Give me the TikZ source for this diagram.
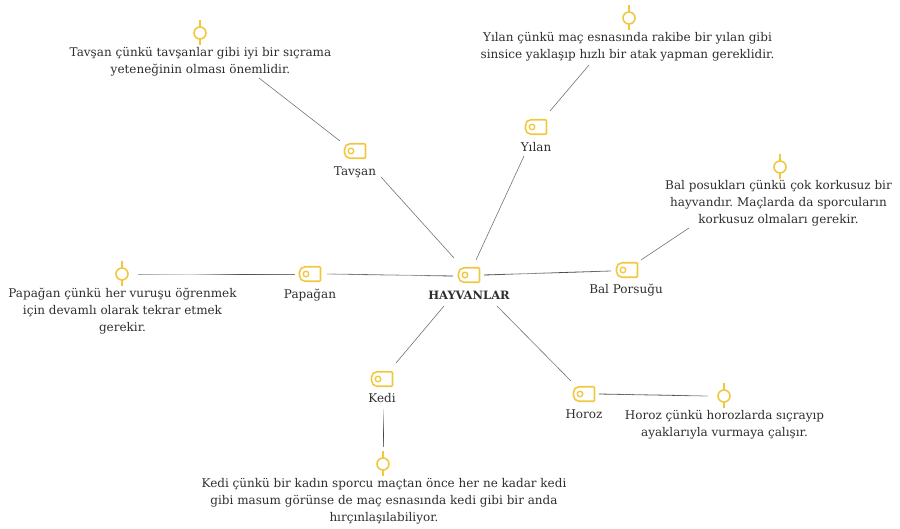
\documentclass[tikz,border=0pt]{standalone}
\usepackage{fontspec}
\setmainfont{DejaVu Serif}
\usetikzlibrary{calc}
\frenchspacing
\definecolor{gold}{HTML}{F0C840}
\definecolor{ink}{HTML}{2E2E2E}
\tikzset{
  tagbox/.style={minimum width=21pt,minimum height=14.5pt,inner sep=0pt,outer sep=0pt},
  pinbox/.style={circle,draw=gold,line width=1.6pt,minimum size=12pt,inner sep=0pt,outer sep=0pt},
  goldline/.style={draw=gold,line width=1.6pt,line join=round},
  wire/.style={draw=black!55,line width=0.6pt},
  caption/.style={text=ink,font=\fontsize{12}{17}\selectfont,align=center,inner sep=0pt},
  tagtext/.style={text=ink,font=\fontsize{12}{17}\selectfont,inner sep=0pt},
}
\newcommand\tagicon[2]{%
  \node[tagbox] (#1) at (#2) {};
  \draw[goldline] ([shift={(-5,0)}]#1.north east) [rounded corners=1pt] -- (#1.north east) -- (#1.south east) [rounded corners=5.5pt] -- (#1.south west) -- (#1.north west) [sharp corners] -- cycle;
  \draw[goldline,line width=1.4pt] ([shift={(6.5,0)}]#1.west) circle[radius=2.8];
}
\newcommand\pinicon[2]{%
  \node[pinbox] (#1) at (#2) {};
  \draw[goldline] (#1.north) -- ++(0,-7);
  \draw[goldline] (#1.south) -- ++(0,6);
}
% shaded connector: from #1 to #2, greys at t = 0, 1/3, 2/3, 1
\newcommand\shadedwire[6]{%
  \foreach \i in {1,...,30}{%
    \pgfmathsetmacro\ta{(\i-1)/30}%
    \pgfmathsetmacro\tb{\i/30}%
    \pgfmathsetmacro\tm{(\i-0.5)/30*3}%
    \pgfmathsetmacro\v{\tm<1?#3+(#4-#3)*\tm:(\tm<2?#4+(#5-#4)*(\tm-1):#5+(#6-#5)*(\tm-2))}%
    \draw[line width=0.8pt,color=black!\v] ($#1!\ta!#2$) -- ($#1!\tb!#2$);
  }%
}
\begin{document}
\begin{tikzpicture}[x=1pt,y=-1pt]
\useasboundingbox (0,0) rectangle (900,528);
% tags
\tagicon{hub}{469,275}
\tagicon{tavsan}{355,151}
\tagicon{yilan}{536,127}
\tagicon{bal}{627,270}
\tagicon{papagan}{310,274}
\tagicon{kedi}{382,379}
\tagicon{horoz}{584,394}
% pins
\pinicon{pinT}{200,33}
\pinicon{pinY}{629,18}
\pinicon{pinB}{780,167}
\pinicon{pinP}{122,274}
\pinicon{pinK}{383,464}
\pinicon{pinH}{724,396}
% labels
\node[tagtext,font=\fontsize{11.5}{17}\selectfont\bfseries] (lhub) at (469,295) {HAYVANLAR};
\node[tagtext] (ltavsan) at (355,172) {Tavşan};
\node[tagtext] (lyilan) at (536,147) {Yılan};
\node[tagtext] (lbal) at (626,290) {Bal Porsuğu};
\node[tagtext] (lpapagan) at (310,295) {Papağan};
\node[tagtext] (lkedi) at (382,398) {Kedi};
\node[tagtext] (lhoroz) at (584,414) {Horoz};
% captions
\node[caption] (capT) at (200.5,61.5) {Tavşan çünkü tavşanlar gibi iyi bir sıçrama\\yeteneğinin olması önemlidir.};
\node[caption] (capY) at (627.5,47) {Yılan çünkü maç esnasında rakibe bir yılan gibi\\sinsice yaklaşıp hızlı bir atak yapman gereklidir.};
\node[caption] (capB) at (778.5,203) {Bal posukları çünkü çok korkusuz bir\\hayvandır. Maçlarda da sporcuların\\korkusuz olmaları gerekir.};
\node[caption] (capP) at (122.5,311) {Papağan çünkü her vuruşu öğrenmek\\için devamlı olarak tekrar etmek\\gerekir.};
\node[caption] (capK) at (384,501) {Kedi çünkü bir kadın sporcu maçtan önce her ne kadar kedi\\gibi masum görünse de maç esnasında kedi gibi bir anda\\hırçınlaşılabiliyor.};
\node[caption] (capH) at (724.5,425) {Horoz çünkü horozlarda sıçrayıp\\ayaklarıyla vurmaya çalışır.};
% plain connectors
\draw[wire] ([shift={(-15,-10)}]tavsan.center) -- ([shift={(58.5,16.5)}]capT.center);
\draw[wire] ([shift={(26,26)}]tavsan.center) -- ([shift={(-15,-17)}]hub.center);
\draw[wire] ([shift={(14,-16)}]yilan.center) -- ([shift={(-38.5,18)}]capY.center);
\draw[wire] ([shift={(-12,29)}]yilan.center) -- ([shift={(7,-15)}]hub.center);
\draw[wire] ([shift={(14,-10)}]bal.center) -- ([shift={(-89.5,25)}]capB.center);
\draw[wire] ([shift={(-25,31)}]hub.center) -- ([shift={(14,-16)}]kedi.center);
\draw[wire] ([shift={(28,31)}]hub.center) -- ([shift={(-13,-13)}]horoz.center);
% shaded connectors
\shadedwire{([shift={(16,0)}]pinP.center)}{([shift={(-15,0)}]papagan.center)}{35}{15}{70}{50}
\shadedwire{([shift={(17,0)}]papagan.center)}{([shift={(-16,1)}]hub.center)}{35}{60}{35}{75}
\shadedwire{([shift={(15,0)}]hub.center)}{([shift={(-16,1)}]bal.center)}{80}{40}{75}{50}
\shadedwire{([shift={(1,30)}]kedi.center)}{([shift={(0,-17)}]pinK.center)}{10}{40}{75}{50}
\shadedwire{([shift={(15,0)}]horoz.center)}{([shift={(-16,0)}]pinH.center)}{70}{55}{70}{35}
\end{tikzpicture}
\end{document}
